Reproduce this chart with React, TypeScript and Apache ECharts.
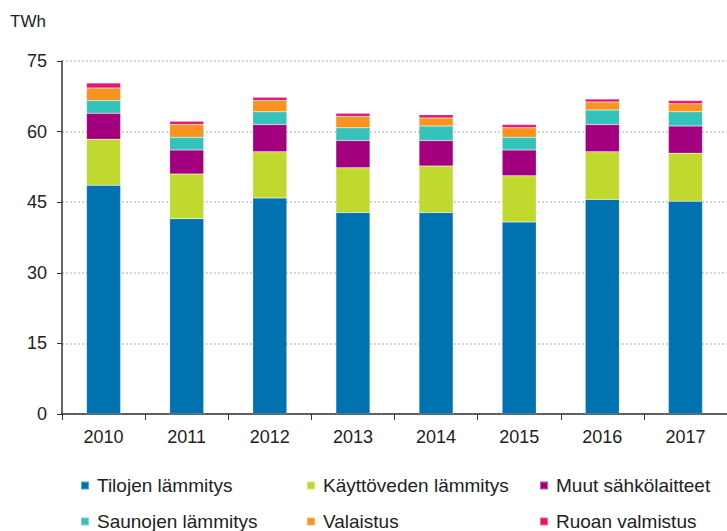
import React, { useEffect, useRef } from "react";
import * as echarts from "echarts";

const years = ["2010", "2011", "2012", "2013", "2014", "2015", "2016", "2017"];
const tilojen = [48.6, 41.5, 45.9, 42.8, 42.8, 40.8, 45.6, 45.2];
const kayttovesi = [9.8, 9.5, 9.8, 9.5, 9.9, 9.8, 10.1, 10.2];
const muut = [5.5, 5.1, 5.8, 5.8, 5.4, 5.5, 5.8, 5.8];
const saunat = [2.7, 2.7, 2.7, 2.7, 3.1, 2.7, 3.1, 3.0];
const valaistus = [2.65, 2.7, 2.4, 2.4, 1.7, 2.0, 1.7, 1.7];
const ruoka = [1.05, 0.7, 0.7, 0.7, 0.7, 0.7, 0.6, 0.7];
const yTicks = [0, 15, 30, 45, 60, 75];

const seriesDefs = [
  { name: "Tilojen lämmitys", data: tilojen, color: "#0072b0" },
  { name: "Käyttöveden lämmitys", data: kayttovesi, color: "#c1d82f" },
  { name: "Muut sähkölaitteet", data: muut, color: "#a2007e" },
  { name: "Saunojen lämmitys", data: saunat, color: "#35c3b9" },
  { name: "Valaistus", data: valaistus, color: "#f7931e" },
  { name: "Ruoan valmistus", data: ruoka, color: "#e5186f" },
];

const legendPos = [
  { left: 80, top: 476 },
  { left: 306, top: 476 },
  { left: 539, top: 476 },
  { left: 80, top: 512 },
  { left: 306, top: 512 },
  { left: 539, top: 512 },
];

export default function App() {
  const ref = useRef<HTMLDivElement>(null);
  useEffect(() => {
    if (!ref.current) return;
    const chart = echarts.init(ref.current, undefined, { renderer: "svg" });
    const font = "'Liberation Sans', Arial, sans-serif";
    chart.setOption({
      animation: false,
      backgroundColor: "#ffffff",
      textStyle: { fontFamily: font },
      graphic: [
        {
          type: "text",
          left: 10,
          top: 13,
          style: { text: "TWh", font: `17px ${font}`, fill: "#222" },
        },
      ],
      legend: seriesDefs.map((s, i) => ({
        data: [s.name],
        left: legendPos[i].left,
        top: legendPos[i].top,
        padding: 0,
        itemWidth: 8,
        itemHeight: 8,
        itemGap: 0,
        icon: "rect",
        selectedMode: false,
        textStyle: { fontFamily: font, fontSize: 19, color: "#222", padding: [0, 0, 0, 3] },
      })),
      grid: { left: 62, top: 61, bottom: 117, right: -3, containLabel: false },
      xAxis: {
        type: "category",
        data: years,
        axisLine: { lineStyle: { color: "#333", width: 1.5 } },
        axisTick: { show: true, length: 6, lineStyle: { color: "#333" } },
        axisLabel: { fontFamily: font, fontSize: 18, color: "#222", margin: 14 },
      },
      yAxis: {
        type: "value",
        min: 0,
        max: 75,
        interval: 15,
        axisLine: { show: true, lineStyle: { color: "#333", width: 1.5 } },
        axisTick: { show: true, length: 5, lineStyle: { color: "#333" } },
        axisLabel: {
          fontFamily: font,
          fontSize: 18,
          color: "#222",
          margin: 15,
          formatter: (v: number) => (yTicks.includes(v) ? String(v) : ""),
        },
        splitLine: { show: true, lineStyle: { color: "#d4d4d4", type: "dotted", width: 2 } },
      },
      series: seriesDefs.map((s) => ({
        name: s.name,
        type: "bar",
        stack: "total",
        data: s.data,
        barWidth: "41%",
        itemStyle: { color: s.color, borderColor: "rgba(255,255,255,0.35)", borderWidth: 0.5 },
      })),
    });
    return () => chart.dispose();
  }, []);
  return <div ref={ref} style={{ width: 727, height: 531, position: "absolute", left: 0, top: 0 }} />;
}
